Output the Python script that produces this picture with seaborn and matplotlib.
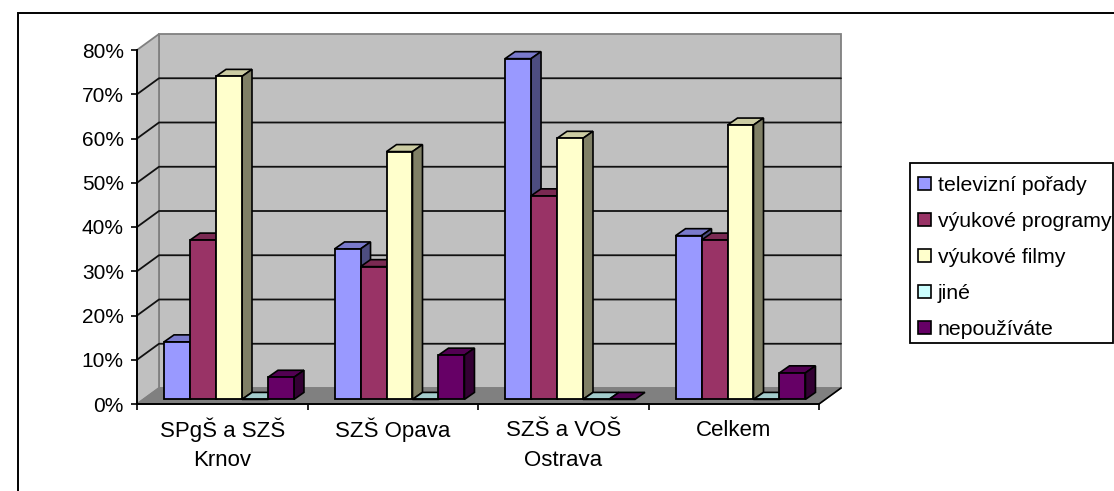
import matplotlib
matplotlib.use("Agg")
import matplotlib.pyplot as plt
from matplotlib.patches import Patch, Polygon, Rectangle
from matplotlib.colors import to_rgb
import pandas as pd
import seaborn as sns

# === Data ===
schools = ["SPgŠ a SZŠ\nKrnov", "SZŠ Opava", "SZŠ a VOŠ\nOstrava", "Celkem"]
televizni = [13, 34, 77, 37]
programy = [36, 30, 46, 36]
filmy = [73, 56, 59, 62]
jine = [0, 0, 0, 0]
nepouzivate = [5, 10, 0, 6]

series_names = ["televizní pořady", "výukové programy", "výukové filmy", "jiné", "nepoužíváte"]
series_values = [televizni, programy, filmy, jine, nepouzivate]
colors = ["#9999FF", "#993366", "#FFFFCC", "#CCFFFF", "#660066"]
y_ticks = [0, 10, 20, 30, 40, 50, 60, 70, 80]

rows = []
for name, values in zip(series_names, series_values):
    for school, value in zip(schools, values):
        rows.append({"school": school, "type": name, "value": value})
df = pd.DataFrame(rows)

# === Theme ===
sns.set_theme(style="ticks")
plt.rcParams["font.family"] = ["Liberation Sans", "DejaVu Sans"]

W, H = 1114, 491
fig = plt.figure(figsize=(W / 100, H / 100), dpi=100, facecolor="white")
ax = fig.add_axes([137 / W, (H - 404) / H, 682 / W, 354 / H])
ax.patch.set_visible(False)

# chart border
fig.add_artist(Rectangle((18 / W, -0.1), 1.1, (H - 13) / H + 0.1, transform=fig.transFigure,
                         facecolor="none", edgecolor="black", linewidth=1.4))

sns.barplot(data=df, x="school", y="value", hue="type", palette=colors, order=schools,
            hue_order=series_names, width=0.762, gap=0, saturation=1, edgecolor="black",
            linewidth=1.3, legend=False, ax=ax)
ax.set_xlim(-0.5, 3.5)
ax.set_ylim(0, 80)

# seaborn's bars, left to right, before anything else is added
bars = sorted([p for p in ax.patches if isinstance(p, Rectangle)], key=lambda p: p.get_x())

# pixel sizes in data units
px_x = 4 / 682
px_y = 80 / 354

# === Walls and floor ===
depth_x, depth_y = 22 * px_x, 16 * px_y
x0, x1 = -0.5, 3.5
wall = "#C0C0C0"
edge = "#808080"
ax.add_patch(Polygon([(x0 + depth_x, depth_y), (x1 + depth_x, depth_y), (x1 + depth_x, 80 + depth_y),
                      (x0 + depth_x, 80 + depth_y)], facecolor=wall, edgecolor=edge, linewidth=1.3,
                     zorder=0.5, clip_on=False))
ax.add_patch(Polygon([(x0, 0), (x0 + depth_x, depth_y), (x0 + depth_x, 80 + depth_y), (x0, 80)],
                     facecolor=wall, edgecolor=edge, linewidth=1.3, zorder=0.5, clip_on=False))
ax.add_patch(Polygon([(x0, 0), (x1, 0), (x1 + depth_x, depth_y), (x0 + depth_x, depth_y)],
                     facecolor=edge, edgecolor=edge, linewidth=1, zorder=0.6, clip_on=False))
ax.plot([x1, x1 + depth_x], [0, depth_y], color="black", linewidth=1.2, zorder=0.7, clip_on=False)

for tick in y_ticks[1:-1]:
    ax.plot([x0, x0 + depth_x, x1 + depth_x], [tick, tick + depth_y, tick + depth_y],
            color="#111111", linewidth=1.3, zorder=0.7, clip_on=False)

# === Fake 3D on the bars ===
bar_offset = (6.75 * px_x, 4.6 * px_y)
bar_dx, bar_dy = 10 * px_x, 7 * px_y


def shade(color, factor):
    return tuple(c * factor for c in to_rgb(color))


for i, bar in enumerate(bars):
    xb = bar.get_x() + bar_offset[0]
    yb = bar.get_y() + bar_offset[1]
    w = bar.get_width()
    h = bar.get_height()
    base = bar.get_facecolor()
    z = 3 + i * 0.01
    bar.set_x(xb)
    bar.set_y(yb)
    bar.set_zorder(z + 0.002)
    bar.set_clip_on(False)
    top = yb + h
    ax.add_patch(Polygon([(xb, top), (xb + w, top), (xb + w + bar_dx, top + bar_dy), (xb + bar_dx, top + bar_dy)],
                         facecolor=shade(base, 0.8), edgecolor="black", linewidth=1.2, zorder=z, clip_on=False))
    if h > 0:
        ax.add_patch(Polygon([(xb + w, yb), (xb + w + bar_dx, yb + bar_dy), (xb + w + bar_dx, top + bar_dy), (xb + w, top)],
                             facecolor=shade(base, 0.5), edgecolor="black", linewidth=1.2, zorder=z, clip_on=False))

# === Axes ===
sns.despine(ax=ax)
for side in ["left", "bottom"]:
    ax.spines[side].set_color("black")
    ax.spines[side].set_linewidth(1.4)
ax.set_xlabel("")
ax.set_ylabel("")
ax.set_yticks(y_ticks)
ax.set_yticklabels([f"{t}%" for t in y_ticks], fontsize=15, color="black")
ax.set_xticks([])
ax.set_xticks([-0.5, 0.5, 1.5, 2.5, 3.5], minor=True)
ax.tick_params(axis="x", which="minor", length=4, width=1.2, color="black")
ax.tick_params(axis="y", which="major", length=4, width=1.2, color="black", pad=5.5)

# category labels, line by line so the baselines line up
for i, school in enumerate(schools):
    for j, line in enumerate(school.split("\n")):
        ax.annotate(line, xy=(i, 0), xytext=(0, -32.5 - 29 * j), textcoords="offset pixels",
                    ha="center", va="baseline", fontsize=16, color="black", annotation_clip=False)

# === Legend ===
fig.add_artist(Rectangle((910 / W, (H - 343) / H), 203 / W, 180 / H, transform=fig.transFigure,
                         facecolor="white", edgecolor="black", linewidth=1.3))
handles = [Patch(facecolor=c, edgecolor="black", linewidth=1.2) for c in colors]
leg = fig.legend(handles, series_names, loc="upper left", bbox_to_anchor=(918 / W, (H - 176) / H),
                 borderaxespad=0, fontsize=15.3, frameon=False, handlelength=0.6, handleheight=0.6,
                 handletextpad=0.33, labelspacing=0.8, borderpad=0, labelcolor="black")

fig.savefig("out.png", dpi=100, facecolor="white")
